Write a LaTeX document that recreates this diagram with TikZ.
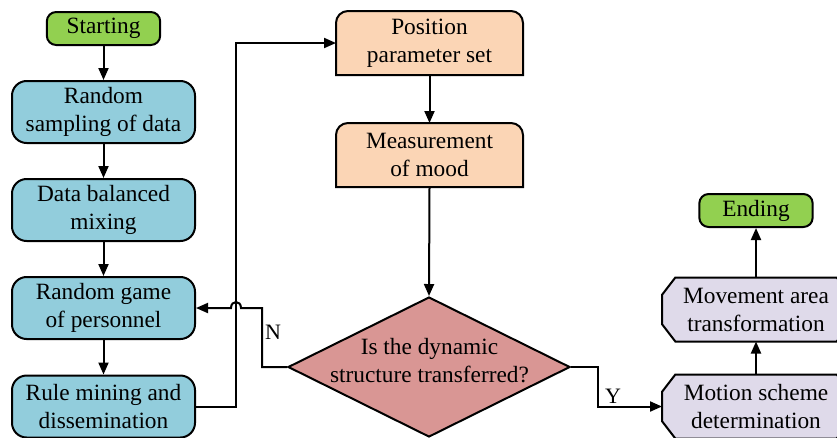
\documentclass[tikz,border=0pt]{standalone}
\usepackage{fontspec}
\setmainfont{Liberation Serif}
\usetikzlibrary{arrows.meta,shapes.geometric,backgrounds}
\definecolor{cgreen}{HTML}{92D050}
\definecolor{cblue}{HTML}{92CDDC}
\definecolor{cpeach}{HTML}{FBD5B5}
\definecolor{crose}{HTML}{D99694}
\definecolor{clav}{HTML}{DFDAEA}
\begin{document}
\begin{tikzpicture}[x=0.75pt,y=-0.75pt,
  base/.style={line width=1.5pt, align=center, font=\fontsize{17.5}{21}\selectfont, inner sep=0pt},
  greenbox/.style={base, draw=black, fill=cgreen, rounded corners=7pt, minimum width=85pt, minimum height=24.75pt},
  bluebox/.style={base, draw=black, fill=cblue, rounded corners=11pt, minimum width=137.25pt, minimum height=46.5pt},
  peachbox/.style={base, minimum width=138.75pt, minimum height=46.5pt},
  octbox/.style={base, minimum width=139.5pt, minimum height=46.5pt},
  shapeline/.style={draw=black, line width=1.5pt},
  arr/.style={line width=1.5pt, -{Triangle[length=9pt,width=7.5pt]}},
  lbl/.style={font=\fontsize{16.5}{19}\selectfont, inner sep=0pt}
]
\useasboundingbox (0,0) rectangle (837,437);

% left column
\node[greenbox] (start) at (103.5,28.5) {Starting};
\node[bluebox] (s1) at (103.5,112) {Random\\sampling of data};
\node[bluebox] (s2) at (103.5,210) {Data balanced\\mixing};
\node[bluebox] (s3) at (103.5,308) {Random game\\of personnel};
\node[bluebox] (s4) at (103.5,406.5) {Rule mining and\\dissemination};

% middle column
\node[peachbox] (p1) at (429.5,43) {Position\\parameter set};
\node[peachbox] (p2) at (429.5,155) {Measurement\\of mood};
\node[diamond, draw=black, fill=crose, line width=1.5pt, minimum width=211.5pt, minimum height=105pt, inner sep=0pt] (d) at (429,367) {};
\node[base] (dtext) at (429.5,361) {Is the dynamic\\structure transferred?};

% right column
\node[octbox] (m1) at (756,406.5) {Motion scheme\\determination};
\node[octbox] (m2) at (756,309.5) {Movement area\\transformation};
\node[greenbox] (end) at (756,210.5) {Ending};

\begin{scope}[on background layer]
  \foreach \b in {p1,p2}{
    \draw[shapeline, fill=cpeach] (\b.south west) -- ([yshift=-9pt]\b.north west)
      arc[start angle=180, end angle=90, radius=9pt] -- ([xshift=-9pt]\b.north east)
      arc[start angle=90, end angle=0, radius=9pt] -- (\b.south east) -- cycle;
  }
  \foreach \b in {m1,m2}{
    \draw[shapeline, fill=clav] ([xshift=10pt]\b.north west) -- ([xshift=-10pt]\b.north east)
      -- ([yshift=-13pt]\b.north east) -- ([yshift=13pt]\b.south east)
      -- ([xshift=-10pt]\b.south east) -- ([xshift=10pt]\b.south west)
      -- ([yshift=13pt]\b.south west) -- ([yshift=-13pt]\b.north west) -- cycle;
  }
\end{scope}

% coordinates
\coordinate (b1) at (236,406.5);
\coordinate (b2) at (236,43);
\coordinate (n1) at (262,367);
\coordinate (n2) at (262,308);
\coordinate (j1) at (241,308);
\coordinate (j2) at (231,308);
\coordinate (y1) at (598,367);
\coordinate (y2) at (598,406.5);

% connectors
\draw[arr] (start.south) -- (s1.north);
\draw[arr] (s1.south) -- (s2.north);
\draw[arr] (s2.south) -- (s3.north);
\draw[arr] (s3.south) -- (s4.north);
\draw[arr] (s4.east) -- (b1) -- (b2) -- (p1.west);
\draw[arr] (p1.south) -- (p2.north);
\draw[arr] (p2.south) -- (d.north);
\draw[arr] (d.west) -- (n1) -- (n2) -- (j1) .. controls (241,300) and (231,300) .. (j2) -- (s3.east);
\draw[arr] (d.east) -- (y1) -- (y2) -- (m1.west);
\draw[arr] (m1.north) -- (m2.south);
\draw[arr] (m2.north) -- (end.south);

\node[lbl] (nl) at (273,332) {N};
\node[lbl] (yl) at (613,396) {Y};
\end{tikzpicture}
\end{document}
